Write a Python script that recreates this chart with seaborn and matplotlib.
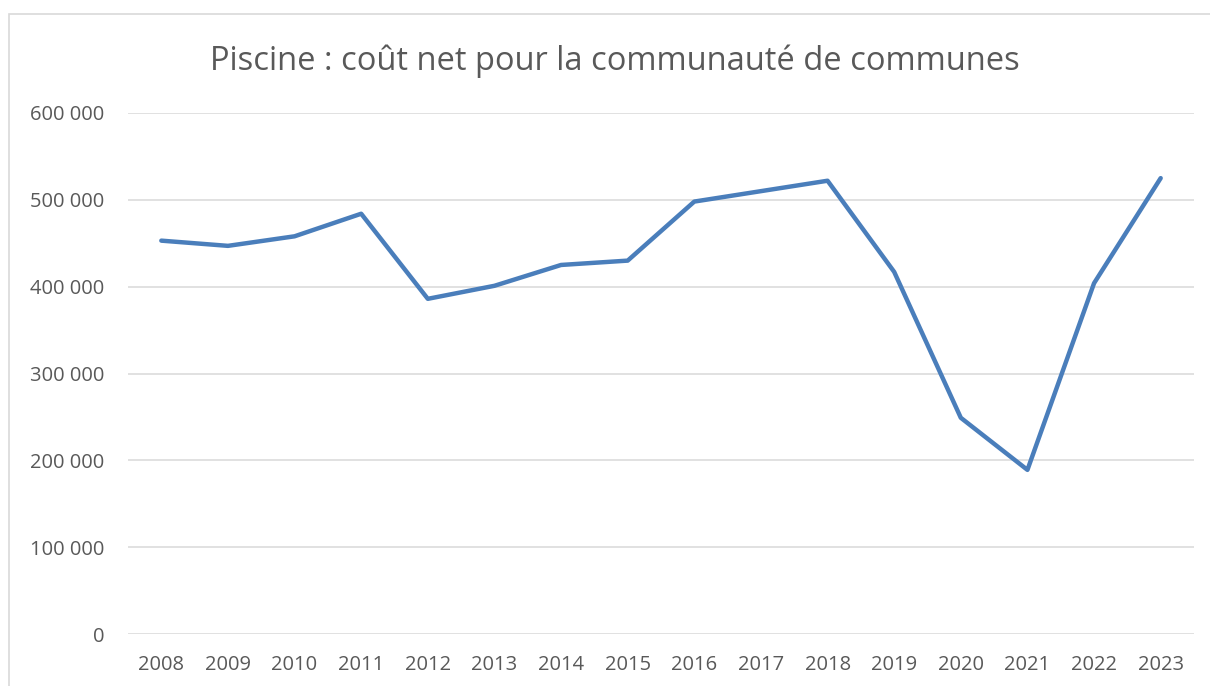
import numpy as np
import pandas as pd
import matplotlib
matplotlib.use('Agg')
import matplotlib.pyplot as plt
import seaborn as sns
from matplotlib.patches import Rectangle

# données
annees = ['2008', '2009', '2010', '2011', '2012', '2013', '2014', '2015',
          '2016', '2017', '2018', '2019', '2020', '2021', '2022', '2023']
cout_net = [453000, 447000, 458000, 484000, 386000, 401000, 425000, 430000,
            498000, 510000, 522000, 417000, 249000, 189000, 404000, 525000]
y_ticks = [0, 100000, 200000, 300000, 400000, 500000, 600000]
y_labels = ['0', '100 000', '200 000', '300 000', '400 000', '500 000', '600 000']

df = pd.DataFrame({'annee': annees, 'cout': cout_net})
df['pos'] = range(len(annees))

sns.set_theme(style='white')
plt.rcParams['font.family'] = ['Open Sans', 'DejaVu Sans']

W, H = 1210, 686
fig = plt.figure(figsize=(W / 100, H / 100), dpi=100)
ax = fig.add_axes([128 / W, 1 - 634 / H, (1194 - 128) / W, (634 - 113) / H])

sns.lineplot(data=df, x='pos', y='cout', ax=ax, color='#4a7ebb', linewidth=3.2)

ax.set_xlim(-0.5, len(annees) - 0.5)
ax.set_ylim(0, 600000)
ax.set_xticks(df['pos'])
ax.set_xticklabels(annees)
ax.set_yticks(y_ticks)
ax.set_yticklabels(y_labels)
ax.set_xlabel('')
ax.set_ylabel('')
ax.grid(axis='y', color='#d9d9d9', linewidth=1.1)
ax.set_axisbelow(True)
for s in ax.spines.values():
    s.set_visible(False)
ax.tick_params(axis='both', length=0, colors='#595959', labelsize=14.5)
ax.tick_params(axis='y', pad=17)
ax.tick_params(axis='x', pad=15)

fig.text(615 / W, 1 - 61 / H, 'Piscine : coût net pour la communauté de communes',
         ha='center', va='center', fontsize=23.5, color='#595959')

# cadre du graphique
fig.patches.append(Rectangle((9 / W, -0.1), 1.2, 1 - 14 / H + 0.1,
                             transform=fig.transFigure, fill=False,
                             edgecolor='#d9d9d9', linewidth=1.2))

fig.savefig('out.png', dpi=100)
